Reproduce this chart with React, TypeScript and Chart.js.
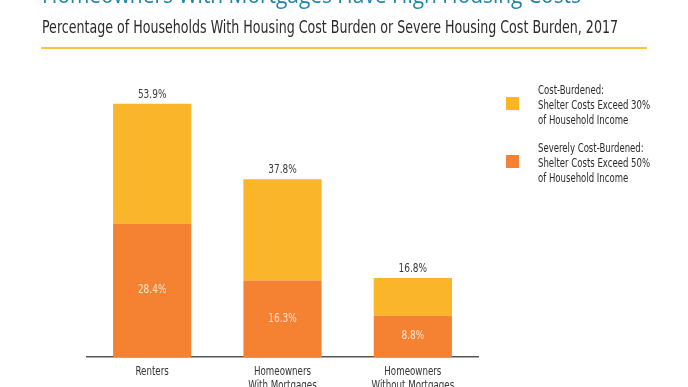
import React, { useEffect, useRef } from "react";
import { Chart, registerables } from "chart.js";

Chart.register(...registerables);

const categories: string[][] = [
  ["Renters"],
  ["Homeowners", "With Mortgages"],
  ["Homeowners", "Without Mortgages"],
];
const costBurdenedTotal: number[] = [53.9, 37.8, 16.8];
const severelyBurdened: number[] = [28.4, 16.3, 8.8];

const titleText = "Homeowners With Mortgages Have High Housing Costs";
const subtitleText =
  "Percentage of Households With Housing Cost Burden or Severe Housing Cost Burden, 2017";
const legendItems = [
  { color: "#FBB52A", lines: ["Cost-Burdened:", "Shelter Costs Exceed 30%", "of Household Income"] },
  { color: "#F58233", lines: ["Severely Cost-Burdened:", "Shelter Costs Exceed 50%", "of Household Income"] },
];

const FONT = '"DejaVu Sans Condensed", "Noto Sans", sans-serif';
const TITLE_FONT = '"Open Sans", "Noto Sans", sans-serif';
const YELLOW = "#FBB52A";
const ORANGE = "#F58233";

let measureCtx: CanvasRenderingContext2D | null = null;
function measure(text: string, font: string): number {
  if (!measureCtx) measureCtx = document.createElement("canvas").getContext("2d");
  measureCtx!.font = font;
  return measureCtx!.measureText(text).width;
}
function fitScale(text: string, font: string, target: number): number {
  const w = measure(text, font);
  return w > 0 ? target / w : 1;
}

function drawSqueezed(ctx: CanvasRenderingContext2D, text: string, x: number, y: number, sx: number) {
  ctx.save();
  ctx.translate(x, y);
  ctx.scale(sx, 1);
  ctx.fillText(text, 0, 0);
  ctx.restore();
}

const labelPlugin = {
  id: "barLabels",
  afterDatasetsDraw(chart: any) {
    const ctx: CanvasRenderingContext2D = chart.ctx;
    ctx.save();
    ctx.textAlign = "center";
    ctx.textBaseline = "middle";
    const valFont = `12px ${FONT}`;
    ctx.font = valFont;
    const sv = fitScale("37.8%", valFont, 28.5);
    const m0 = chart.getDatasetMeta(0);
    m0.data.forEach((bar: any, i: number) => {
      ctx.fillStyle = "#FCE4D0";
      drawSqueezed(ctx, severelyBurdened[i].toFixed(1) + "%", bar.x, (bar.y + bar.base) / 2, sv);
    });
    const m1 = chart.getDatasetMeta(1);
    m1.data.forEach((bar: any, i: number) => {
      ctx.fillStyle = "#3a3a3a";
      drawSqueezed(ctx, costBurdenedTotal[i].toFixed(1) + "%", bar.x, bar.y - 9, sv);
    });
    // category labels, placed with the x scale
    const xs = chart.scales.x;
    const tickFont = `13px ${FONT}`;
    ctx.font = tickFont;
    ctx.fillStyle = "#333333";
    const st = fitScale("Homeowners", tickFont, 57);
    categories.forEach((lines, i) => {
      const x = xs.getPixelForTick(i);
      lines.forEach((l, j) => {
        drawSqueezed(ctx, l, x, chart.chartArea.bottom + 15 + j * 14, st);
      });
    });
    ctx.restore();
  },
};

function Squeezed(props: { text: string; font: string; size: number; target: number; sample?: string; style: any }) {
  const f = `${props.size}px ${props.font}`;
  const s = fitScale(props.sample || props.text, f, props.target);
  return (
    <div
      style={{
        position: "absolute",
        whiteSpace: "nowrap",
        fontFamily: props.font,
        fontSize: props.size,
        transformOrigin: "0 0",
        transform: `scaleX(${s})`,
        ...props.style,
      }}
    >
      {props.text}
    </div>
  );
}

export default function App() {
  const ref = useRef<HTMLCanvasElement | null>(null);
  useEffect(() => {
    if (!ref.current) return;
    const remainder = costBurdenedTotal.map((t, i) => +(t - severelyBurdened[i]).toFixed(1));
    const chart = new Chart(ref.current, {
      type: "bar",
      data: {
        labels: categories,
        datasets: [
          {
            label: "Severely Cost-Burdened",
            data: severelyBurdened,
            backgroundColor: ORANGE,
            barPercentage: 0.6,
            categoryPercentage: 1,
          },
          {
            label: "Cost-Burdened",
            data: remainder,
            backgroundColor: YELLOW,
            barPercentage: 0.6,
            categoryPercentage: 1,
          },
        ],
      },
      options: {
        animation: false,
        responsive: false,
        maintainAspectRatio: false,
        layout: { padding: { left: 87, right: 210, top: 75, bottom: 0 } },
        plugins: { legend: { display: false }, tooltip: { enabled: false }, title: { display: false } },
        scales: {
          x: {
            stacked: true,
            grid: { display: false, drawTicks: false },
            border: { display: true, color: "#555555", width: 1.5 },
            ticks: { display: false },
            afterFit: (scale: any) => {
              scale.height = 43;
            },
          },
          y: {
            stacked: true,
            display: false,
            min: 0,
            max: 60,
          },
        },
      },
      plugins: [labelPlugin],
    });
    return () => chart.destroy();
  }, []);

  const legendSize = 12;
  return (
    <div
      style={{
        position: "absolute",
        left: 0,
        top: 0,
        width: 688,
        height: 387,
        overflow: "hidden",
        background: "#ffffff",
      }}
    >
      <canvas ref={ref} width={688} height={400} style={{ position: "absolute", left: 0, top: 0, width: 688, height: 400 }} />
      <Squeezed
        text={titleText}
        font={TITLE_FONT}
        size={24}
        target={539}
        style={{ left: 42, top: -18, lineHeight: "24px", color: "#1C86A6" }}
      />
      <Squeezed
        text={subtitleText}
        font={FONT}
        size={18}
        target={576}
        style={{ left: 42, top: 18, lineHeight: "18px", color: "#2a2a2a" }}
      />
      <div style={{ position: "absolute", left: 41, top: 47, width: 606, height: 2, background: "#FCC23C" }} />
      {legendItems.map((it, k) => (
        <React.Fragment key={k}>
          <div
            style={{ position: "absolute", left: 506, top: 97 + k * 58, width: 13, height: 13, background: it.color }}
          />
          {it.lines.map((l, j) => (
            <Squeezed
              key={j}
              text={l}
              font={FONT}
              size={legendSize}
              target={112}
              sample="Shelter Costs Exceed 30%"
              style={{ left: 538, top: 83 + k * 58 + j * 15, lineHeight: "15px", color: "#2a2a2a" }}
            />
          ))}
        </React.Fragment>
      ))}
    </div>
  );
}
